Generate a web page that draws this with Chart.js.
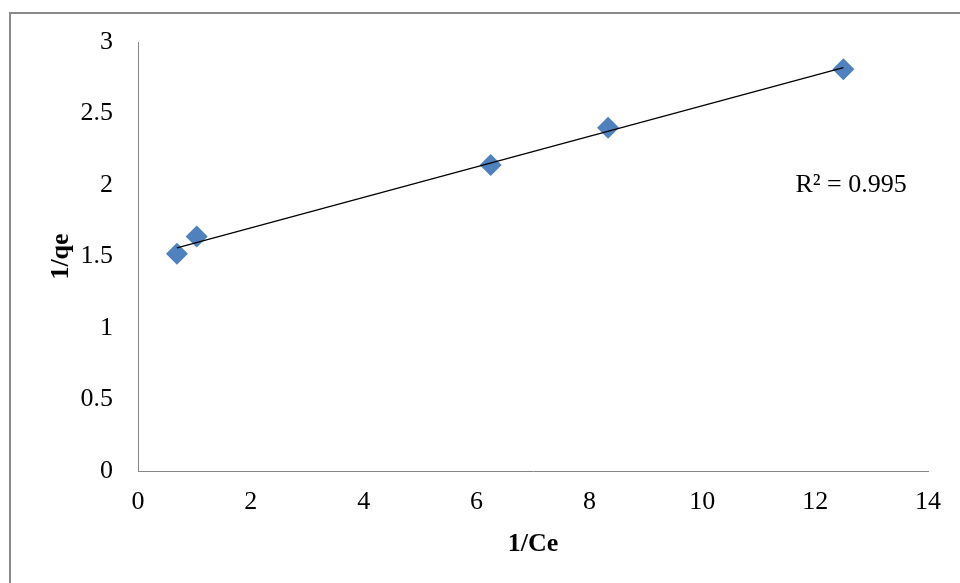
<!DOCTYPE html>
<html>
<head>
<meta charset="utf-8">
<script src="https://cdn.jsdelivr.net/npm/chart.js@4.4.0/dist/chart.umd.min.js"></script>
<style>
  body { margin: 0; background: #fff; }
  #wrap { width: 960px; height: 583px; }
</style>
</head>
<body>
<div id="wrap"><canvas id="c"></canvas></div>
<script>
// valeurs
const ceInv = [0.69, 1.04, 6.25, 8.33, 12.5];
const qeInv = [1.52, 1.64, 2.14, 2.40, 2.81];
// droite de tendance (extrémités)
const trendX = [0.69, 12.5];
const trendY = [1.56, 2.82];
const xTicks = [0, 2, 4, 6, 8, 10, 12, 14];
const yTicks = [0, 0.5, 1, 1.5, 2, 2.5, 3];
const r2Label = 'R\u00B2 = 0.995';

const serif = '"Liberation Serif", "Times New Roman", serif';
const axisGray = '#868686';

const frame = {
    id: 'frame',
    beforeDraw(chart) {
        const c = chart.ctx;
        c.save();
        c.strokeStyle = '#8a8a8a';
        c.lineWidth = 2;
        c.strokeRect(10, 13, 1000, 640);
        c.restore();
    },
    afterDraw(chart) {
        const c = chart.ctx;
        const x = chart.scales.x, y = chart.scales.y;
        c.save();
        c.font = '26px ' + serif;
        c.fillStyle = '#000';
        c.textBaseline = 'middle';
        c.fillText(r2Label, x.getPixelForValue(11.65), y.getPixelForValue(2.0));
        c.restore();
    }
};

new Chart(document.getElementById('c'), {
    type: 'scatter',
    data: {
        datasets: [{
            data: ceInv.map((v, i) => ({ x: v, y: qeInv[i] })),
            pointStyle: 'rectRot',
            pointRadius: 11,
            pointHoverRadius: 11,
            backgroundColor: '#4F81BD',
            borderColor: '#4F81BD',
            borderWidth: 0,
            order: 2
        }, {
            type: 'line',
            data: trendX.map((v, i) => ({ x: v, y: trendY[i] })),
            borderColor: '#000',
            borderWidth: 1.3,
            pointRadius: 0,
            fill: false,
            order: 1
        }]
    },
    options: {
        responsive: true,
        maintainAspectRatio: false,
        animation: false,
        layout: { padding: { top: 42, right: 32, left: 0, bottom: 0 } },
        plugins: { legend: { display: false }, tooltip: { enabled: false } },
        scales: {
            x: {
                type: 'linear',
                min: 0, max: 14,
                afterFit(s) { s.height = 112; },
                afterBuildTicks(s) { s.ticks = xTicks.map(v => ({ value: v })); },
                grid: { display: false, drawTicks: false },
                border: { display: true, color: axisGray, width: 1 },
                ticks: { color: '#000', font: { family: serif, size: 26 }, padding: 16, maxRotation: 0 },
                title: { display: true, text: '1/Ce', color: '#000', font: { family: serif, size: 26, weight: 'bold' }, padding: { top: 0, bottom: 23 } }
            },
            y: {
                type: 'linear',
                min: 0, max: 3,
                afterFit(s) { s.width = 138; },
                afterBuildTicks(s) { s.ticks = yTicks.map(v => ({ value: v })); },
                grid: { display: false, drawTicks: false },
                border: { display: true, color: axisGray, width: 1 },
                ticks: { color: '#000', font: { family: serif, size: 26 }, padding: 25, callback: v => String(v) },
                title: { display: true, text: '1/qe', color: '#000', font: { family: serif, size: 26, weight: 'bold' }, padding: { top: 46, bottom: 0 } }
            }
        }
    },
    plugins: [frame]
});
</script>
</body>
</html>
